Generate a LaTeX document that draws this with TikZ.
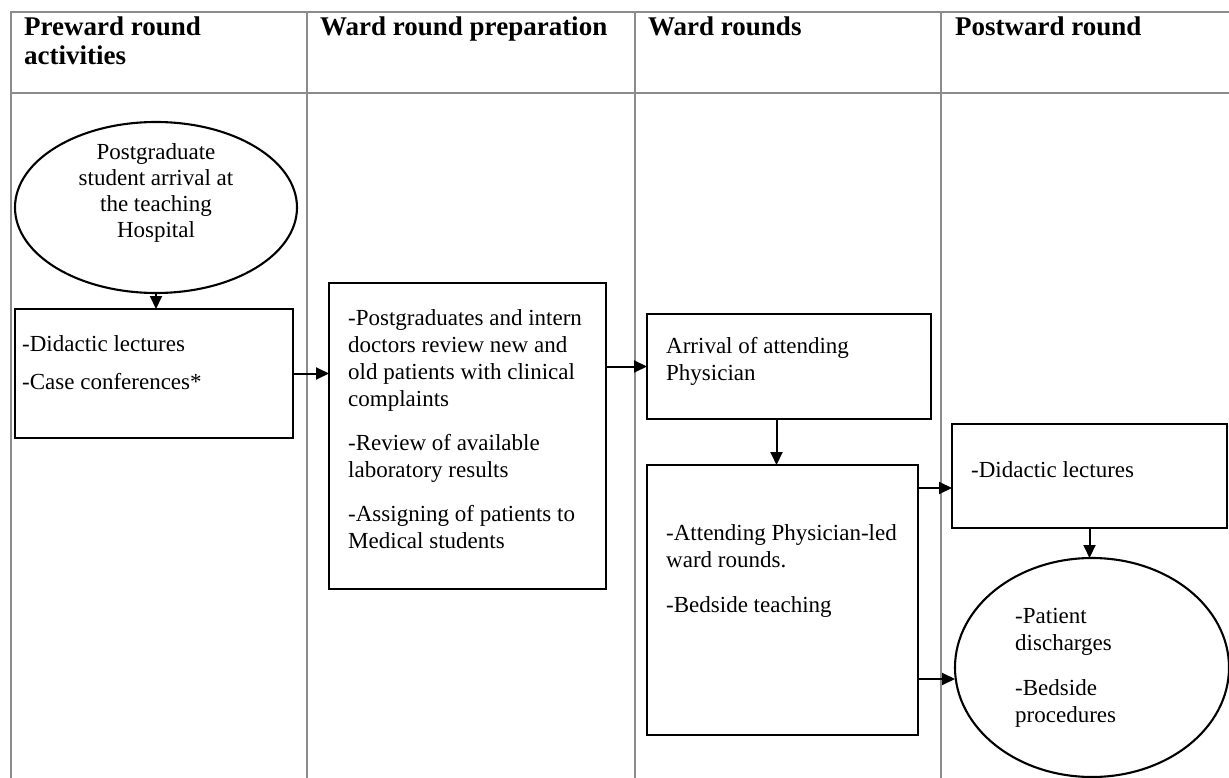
\documentclass[tikz,border=0pt]{standalone}
\usepackage{fontspec}
\setmainfont{Liberation Serif}
\usetikzlibrary{arrows.meta, positioning, shapes.geometric}
\definecolor{lanegray}{HTML}{8C8C8C}

\begin{document}
\begin{tikzpicture}[
    x=1pt, y=-1pt,
    lane/.style={draw=lanegray, line width=1.8pt},
    hdr/.style={font=\bfseries\fontsize{27}{29}\selectfont, align=left, anchor=base west, inner sep=0},
    box/.style={draw, line width=2.5pt, anchor=north west, inner sep=0, outer sep=0},
    oval/.style={draw, ellipse, line width=2.1pt, inner sep=0, outer sep=0},
    txt/.style={font=\fontsize{23}{27}\selectfont, align=left, anchor=base west, inner sep=0},
    arrow/.style={-{Triangle[length=13pt, width=12pt]}, line width=2pt}
]
\useasboundingbox (0,0) rectangle (1229,778);

% Swimlane table
\draw[lane] (11,781) -- (11,12) -- (1232,12);
\draw[lane] (11,93) -- (1232,93);
\foreach \x in {307,635,941} \draw[lane] (\x,12) -- (\x,781);

% Lane headers (base = last line)
\node[hdr] (hpre) at (24,65) {Preward round\\activities};
\node[hdr] (hprep) at (320,36) {Ward round preparation};
\node[hdr] (hward) at (648,36) {Ward rounds};
\node[hdr] (hpost) at (955,36) {Postward round};

% Shapes
\node[oval, minimum width=282, minimum height=171] (arrival) at (156,207.5) {};
\node[box, minimum width=278, minimum height=129] (pre) at (15,309) {};
\node[box, minimum width=277, minimum height=306] (prep) at (329,283) {};
\node[box, minimum width=284, minimum height=105] (attend) at (647,314) {};
\node[box, minimum width=271, minimum height=270] (rounds) at (647,465) {};
\node[box, minimum width=275, minimum height=104] (postlect) at (952,424) {};
\node[oval, minimum width=274, minimum height=219] (discharge) at (1092,667.5) {};

% Texts
\node[txt, font=\fontsize{23}{26}\selectfont, align=center, anchor=base] (arrivaltxt)
    at ([yshift=-30.5pt]arrival.center) {Postgraduate\\student arrival at\\the teaching\\Hospital};
\node[txt] (pretxt) at ([xshift=7pt, yshift=-80pt]pre.north west)
    {-Didactic lectures\\[11pt]-Case conferences*};
\node[txt] (preptxt) at ([xshift=19pt, yshift=-265pt]prep.north west)
    {-Postgraduates and intern\\doctors review new and\\old patients with clinical\\complaints\\[17pt]-Review of available\\laboratory results\\[17pt]-Assigning of patients to\\Medical students};
\node[txt] (attendtxt) at ([xshift=19pt, yshift=-66pt]attend.north west)
    {Arrival of attending\\Physician};
\node[txt] (roundstxt) at ([xshift=19pt, yshift=-147pt]rounds.north west)
    {-Attending Physician-led\\ward rounds.\\[18pt]-Bedside teaching};
\node[txt] (postlecttxt) at ([xshift=19pt, yshift=-53pt]postlect.north west)
    {-Didactic lectures};
\node[txt] (dischargetxt) at ([xshift=60pt, yshift=-54.5pt]discharge.west)
    {-Patient\\discharges\\[18pt]-Bedside\\procedures};

% Connectors
\draw[arrow] (arrival.south) -- (arrival.south |- pre.north);
\draw[arrow] (pre.east) -- (pre.east -| prep.west);
\draw[arrow] (attend.west -| prep.east) -- (attend.west);
\draw[arrow] ([xshift=-6pt]rounds.north |- attend.south) -- ([xshift=-6pt]rounds.north);
\draw[arrow] ([yshift=-23pt]rounds.north east) -- ([yshift=-23pt]rounds.north east -| postlect.west);
\draw[arrow] ([yshift=56pt]rounds.south east) -- ([yshift=56pt]rounds.south east -| discharge.west);
\draw[arrow] (postlect.south) -- (postlect.south |- discharge.north);

\end{tikzpicture}
\end{document}
